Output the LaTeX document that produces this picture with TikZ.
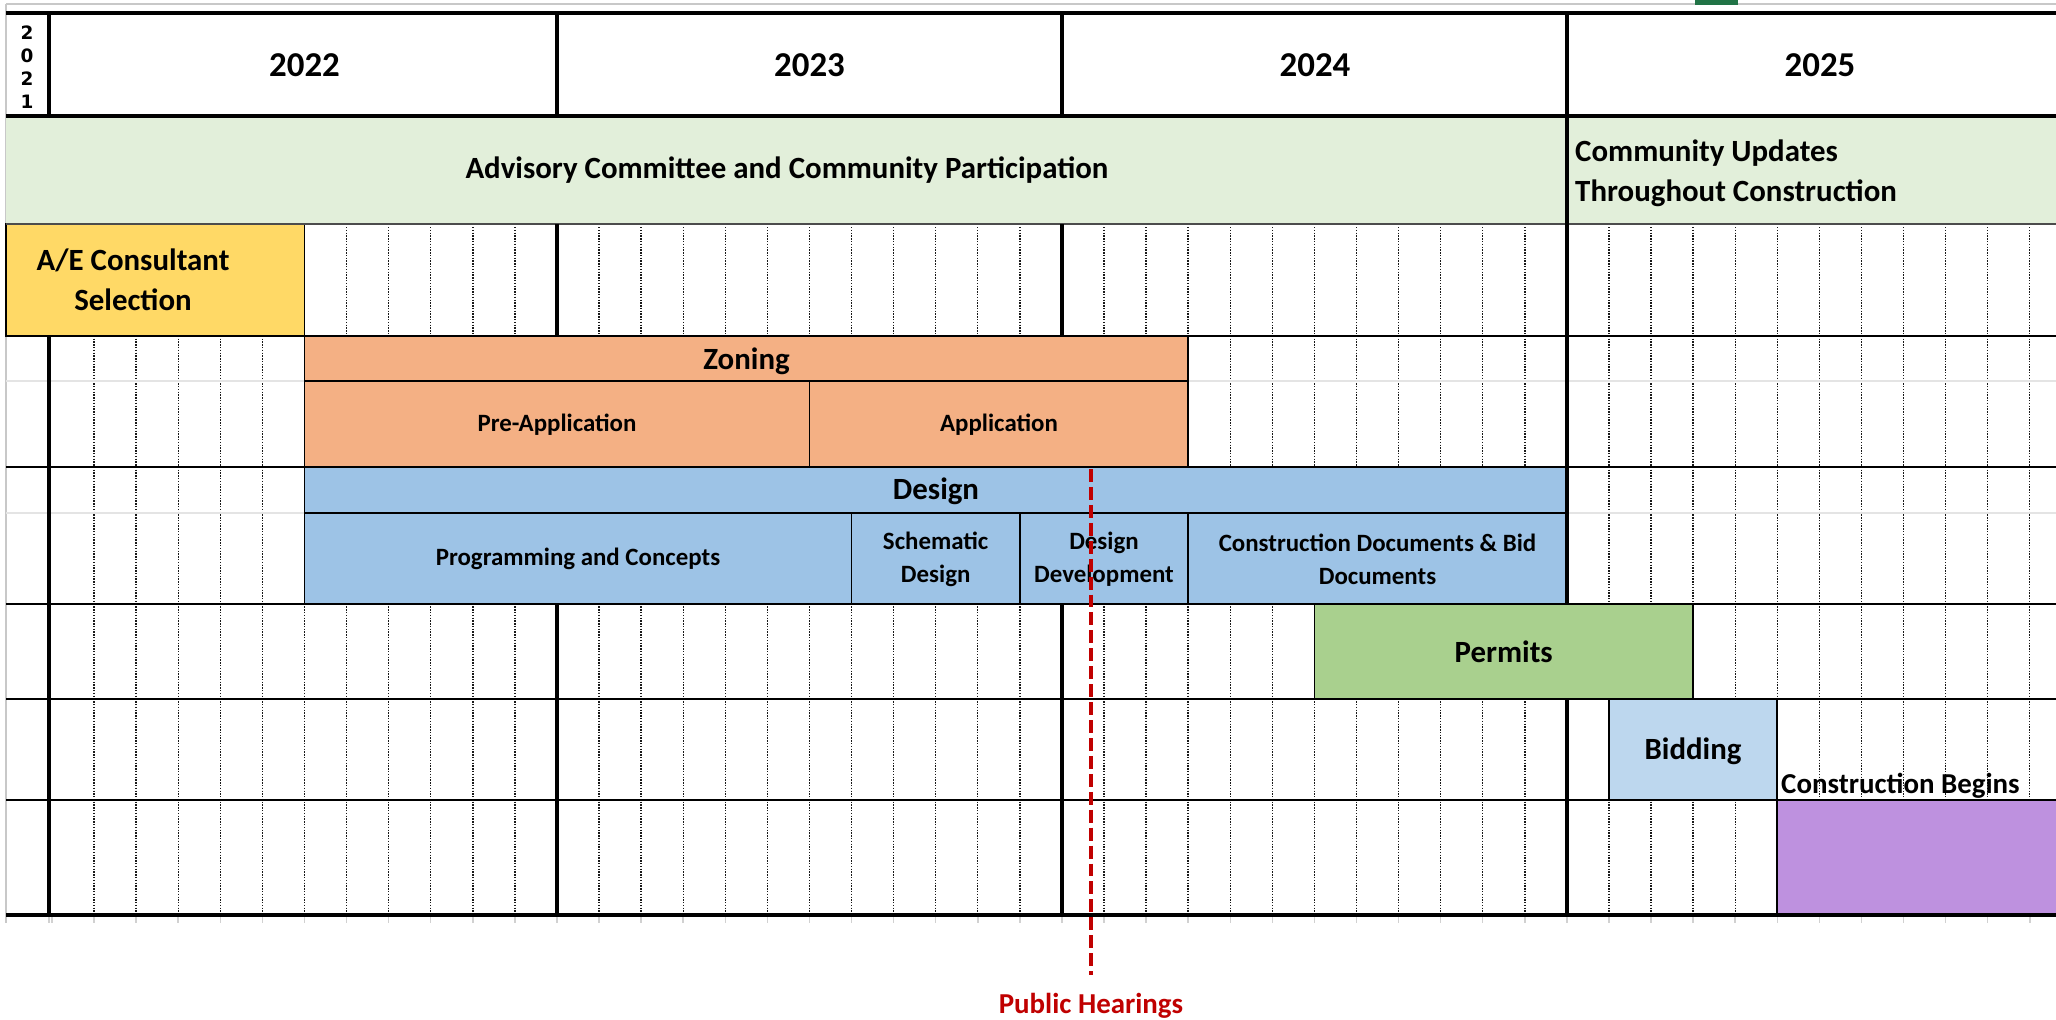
\documentclass[tikz,border=0pt]{standalone}
\usepackage{fontspec}
\setmainfont{Carlito}
\newfontfamily\digitfont{DejaVu Sans}
\definecolor{bandgreen}{HTML}{E2EFDA}
\definecolor{aeyellow}{HTML}{FFD966}
\definecolor{zonorange}{HTML}{F4B084}
\definecolor{desblue}{HTML}{9DC3E6}
\definecolor{permgreen}{HTML}{A9D08E}
\definecolor{bidblue}{HTML}{BDD7EE}
\definecolor{conpurple}{HTML}{BE91DF}
\definecolor{hearred}{HTML}{C00000}
\definecolor{xlgreen}{HTML}{217346}
\definecolor{edgegray}{HTML}{C8C8C8}
\definecolor{gridlight}{HTML}{E4E4E4}
\tikzset{
  monthline/.style={draw=black!90, line width=1.4pt, dash pattern=on 1.4pt off 1.4pt},
  tickmark/.style={draw=black!18, line width=1.5pt},
  cell/.style={draw=black, line width=1.8pt},
  rowrule/.style={draw=black, line width=2.4pt},
  yearrule/.style={draw=black, line width=3.8pt},
  biglbl/.style={font=\bfseries\fontsize{31}{40}\selectfont, align=center, inner sep=0pt},
  smlbl/.style={font=\bfseries\fontsize{25}{33}\selectfont, align=center, inner sep=0pt},
  yrlbl/.style={font=\bfseries\fontsize{35}{42}\selectfont, inner sep=0pt},
  hearing/.style={draw=hearred, line width=4pt, dash pattern=on 13pt off 5pt},
  phlabel/.style={font=\bfseries\fontsize{29}{35}\selectfont, text=hearred, inner sep=0pt},
}
\begin{document}
\begin{tikzpicture}[x=1bp,y=-1bp]
\useasboundingbox (0,0) rectangle (2056,1020);
\clip (0,0) rectangle (2056,1020);
\fill[white] (0,0) rectangle (2056,1020);

% spreadsheet edges
\draw[edgegray, line width=2pt] (6,4) -- (2060,4);
\draw[edgegray, line width=2pt] (6,4) -- (6,923);
\fill[xlgreen] (1695,0) rectangle (1738,4.5);

% dotted month lines
\foreach \yr in {0,12,24,36} {
  \foreach \m in {1,...,11} {
    \pgfmathsetmacro\xx{52+42.08*(\yr+\m)}
    \draw[monthline] (\xx,227) -- (\xx,912);
  }
}
% faint ticks below the chart
\foreach \k in {0,...,48} {
  \pgfmathsetmacro\xx{52+42.08*\k}
  \draw[tickmark] (\xx,916) -- (\xx,923);
}
\draw[tickmark] (49,916) -- (49,923);

% light spreadsheet gridlines
\draw[gridlight, line width=2pt] (6,381) -- (2060,381);
\draw[gridlight, line width=2pt] (6,513) -- (2060,513);

% green band
\fill[bandgreen] (6,116) rectangle (2060,224);

% task boxes
\draw[cell, fill=aeyellow] (6,224) rectangle (304.5,336);
\draw[cell, fill=zonorange] (304.5,336) rectangle (1188,381);
\draw[cell, fill=zonorange] (304.5,381) rectangle (809.5,467);
\draw[cell, fill=zonorange] (809.5,381) rectangle (1188,467);
\draw[cell, fill=desblue] (304.5,467) rectangle (1567,513);
\draw[cell, fill=desblue] (304.5,513) rectangle (851.5,604);
\draw[cell, fill=desblue] (851.5,513) rectangle (1020,604);
\draw[cell, fill=desblue] (1020,513) rectangle (1188,604);
\draw[cell, fill=desblue] (1188,513) rectangle (1567,604);
\draw[cell, fill=permgreen] (1314.4,604) rectangle (1693,699);
\draw[cell, fill=bidblue] (1609,699) rectangle (1777,800);
\draw[cell, fill=conpurple] (1777,800) rectangle (2070,915);

% horizontal rules
\draw[black, line width=4pt] (6,13) -- (2060,13);
\draw[black, line width=3.5pt] (6,116) -- (2060,116);
\draw[black!70, line width=1.5pt] (6,224) -- (2060,224);
\foreach \yy in {336,467,604,699,800} {
  \draw[rowrule] (6,\yy) -- (2060,\yy);
}
\draw[black, line width=4.5pt] (6,915) -- (2060,915);

% year rules
\draw[yearrule] (49,13) -- (49,116);
\draw[yearrule] (49,336) -- (49,915);
\foreach \xx in {557,1062} {
  \draw[yearrule] (\xx,13) -- (\xx,116);
  \draw[yearrule] (\xx,224) -- (\xx,336);
  \draw[yearrule] (\xx,604) -- (\xx,915);
}
\draw[yearrule] (1567,13) -- (1567,604);
\draw[yearrule] (1567,699) -- (1567,915);

% header labels
\node[font=\digitfont\bfseries\fontsize{18.5}{23}\selectfont, align=center, inner sep=0pt] (y21) at (27,67) {2\\0\\2\\1};
\node[yrlbl] (y22) at (304.5,65) {2022};
\node[yrlbl] (y23) at (809.5,65) {2023};
\node[yrlbl] (y24) at (1315,65) {2024};
\node[yrlbl] (y25) at (1820,65) {2025};

% band labels
\node[biglbl] (adv) at (787,170) {Advisory Committee and Community Participation};
\node[biglbl, align=left, anchor=west] (upd) at (1575,173) {Community Updates\\Throughout Construction};

% task labels
\node[biglbl] (ae) at (133,280) {A/E Consultant\\Selection};
\node[biglbl] (zon) at (746.5,361) {Zoning};
\node[smlbl] (pre) at (557,425) {Pre-Application};
\node[smlbl] (app) at (999,425) {Application};
\node[biglbl] (des) at (936,491) {Design};
\node[smlbl] (prog) at (578,559) {Programming and Concepts};
\node[smlbl] (sch) at (935.7,559) {Schematic\\Design};
\node[smlbl] (dd) at (1104,559) {Design\\Development};
\node[smlbl] (cd) at (1377.5,559) {Construction Documents \& Bid\\Documents};
\node[biglbl] (perm) at (1503.7,652) {Permits};
\node[biglbl] (bid) at (1693,751) {Bidding};
\node[font=\bfseries\fontsize{29}{35}\selectfont, inner sep=0pt, anchor=base west] (cb) at (1781,793) {Construction Begins};

% public hearings marker
\coordinate (phtop) at (1091,469);
\coordinate (phbot) at (1091,975);
\draw[hearing] (phtop) -- (phbot);
\node[phlabel, anchor=base] (ph) at (1091,1013) {Public Hearings};
\end{tikzpicture}
\end{document}
